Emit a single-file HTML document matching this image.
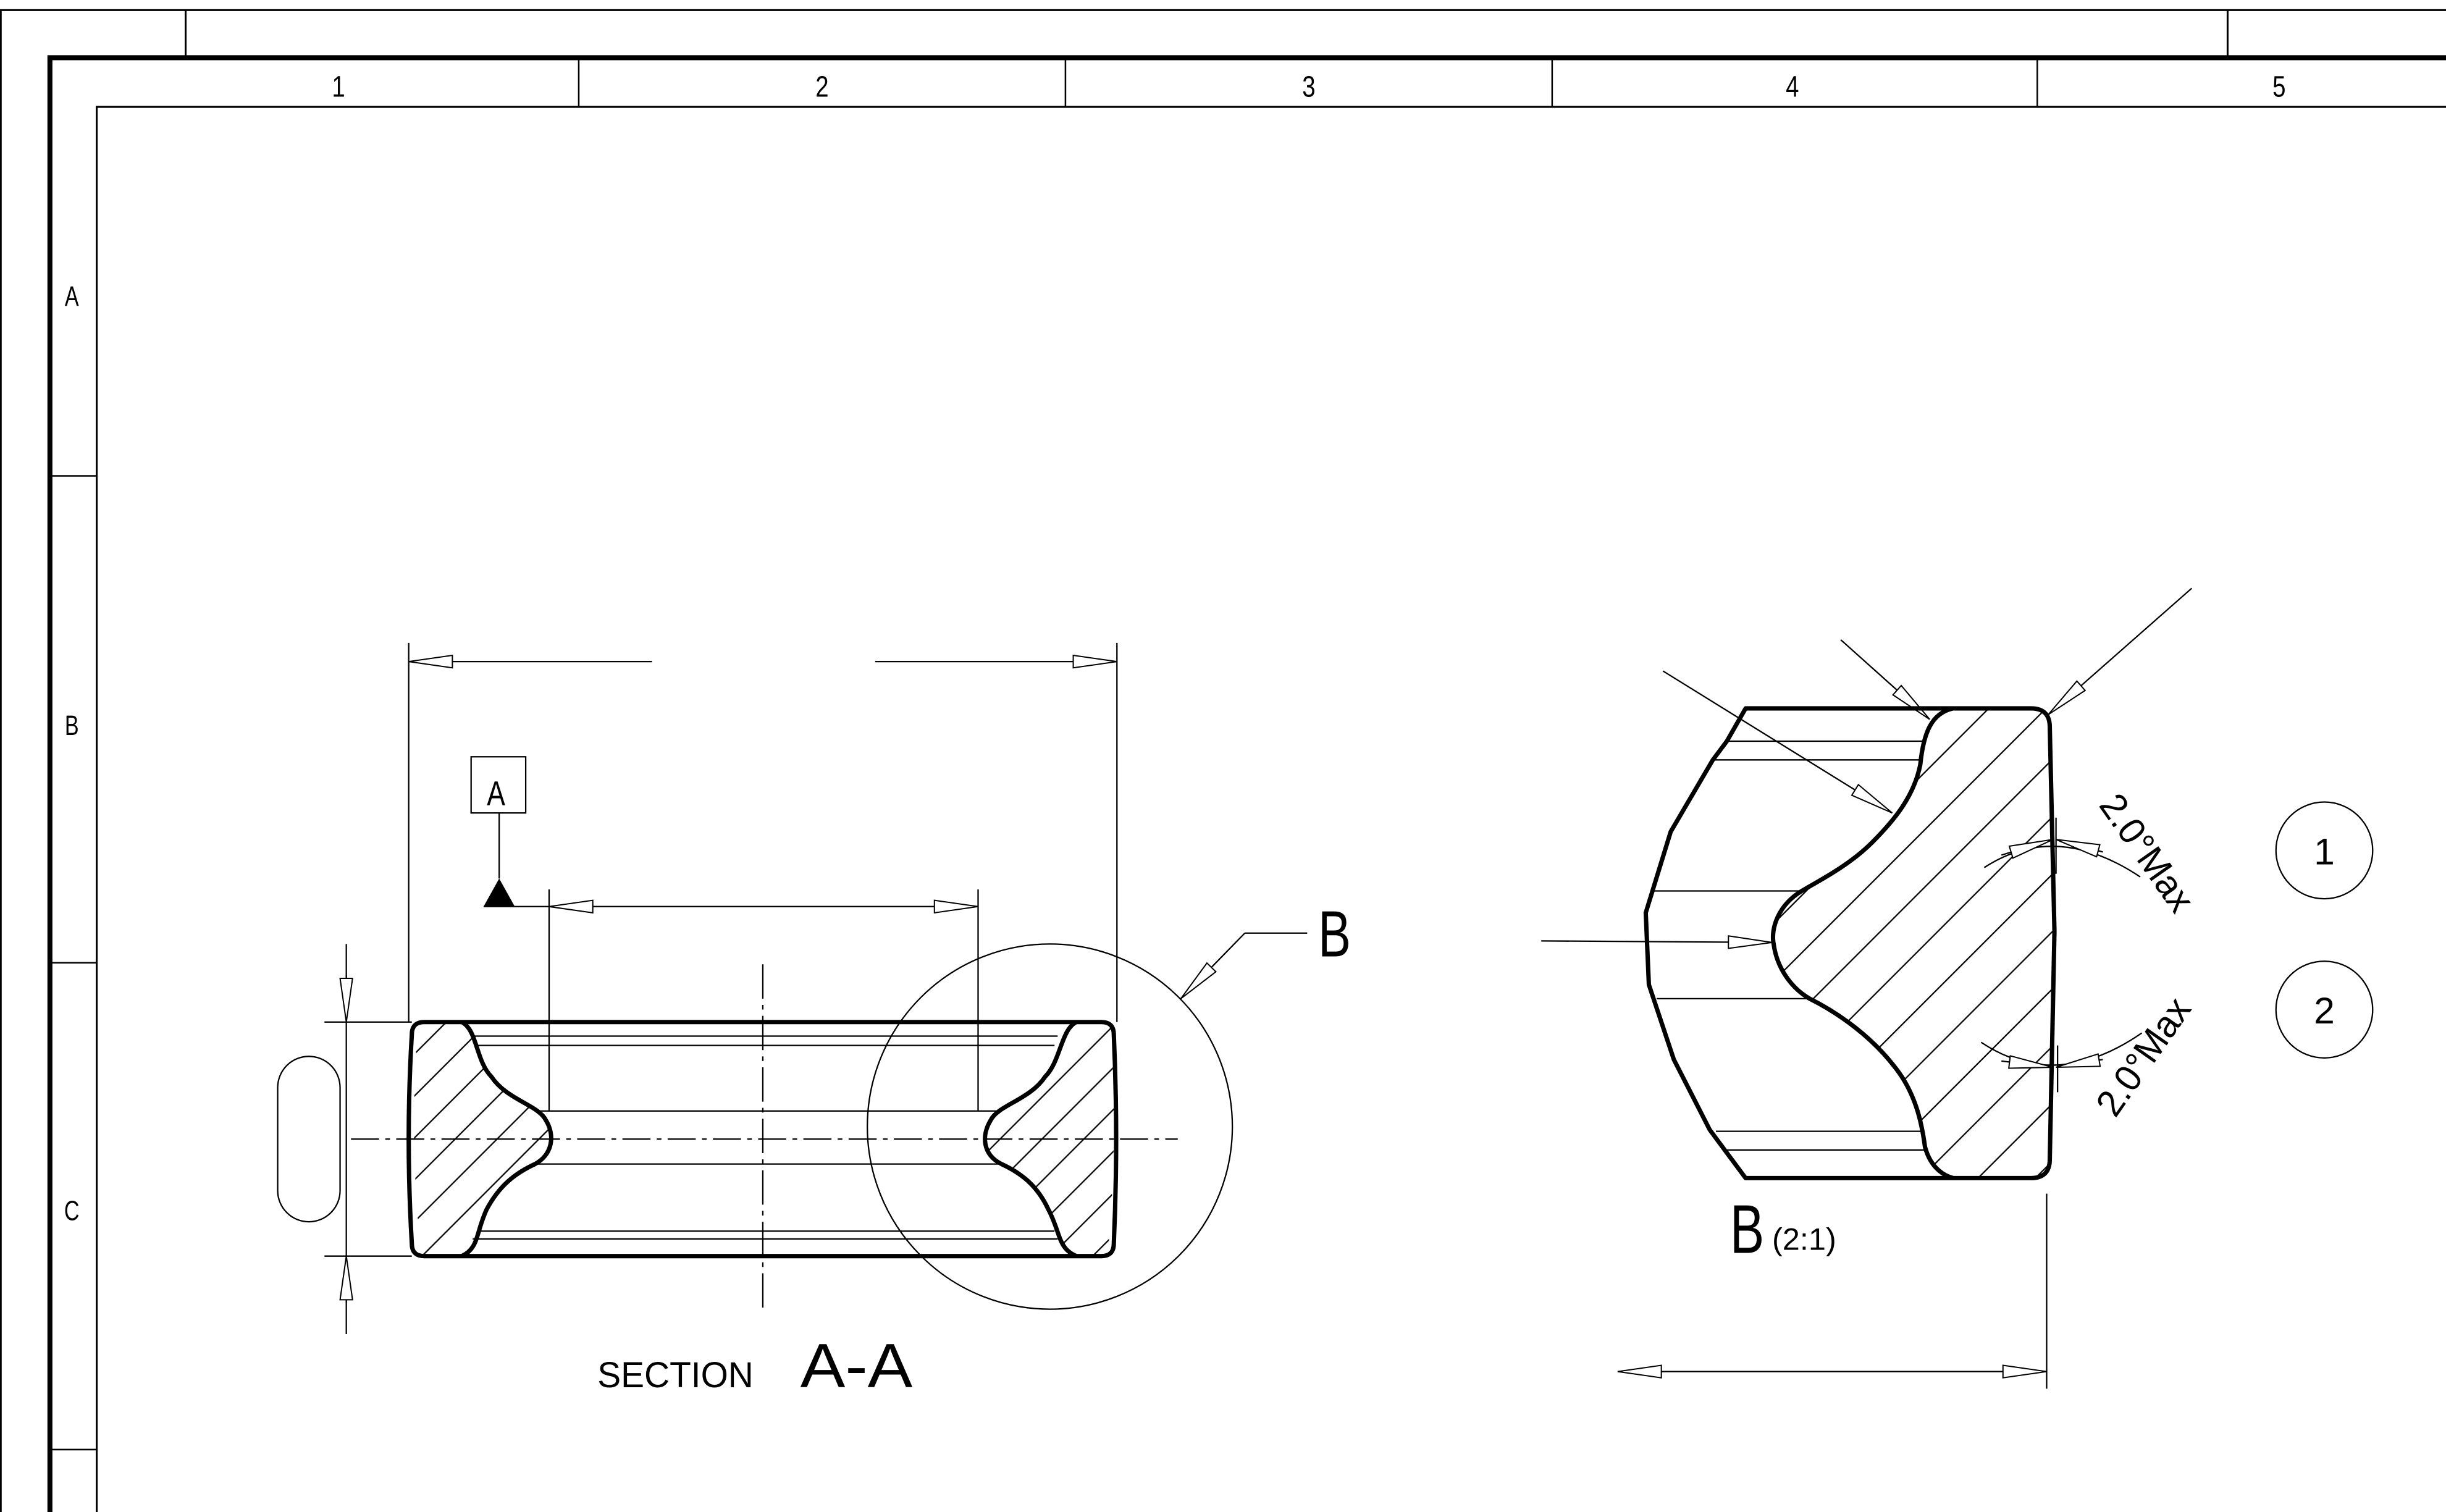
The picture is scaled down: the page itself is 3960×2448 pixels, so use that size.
<!DOCTYPE html>
<html><head><meta charset="utf-8"><style>html,body{margin:0;padding:0;background:#fff}svg{display:block}text{font-family:"Liberation Sans",sans-serif;fill:#000}</style></head>
<body>
<svg width="3960" height="2448" viewBox="0 0 1568 969" preserveAspectRatio="none" xmlns="http://www.w3.org/2000/svg">
<defs>
<marker id="a" markerUnits="userSpaceOnUse" markerWidth="30" markerHeight="10" refX="28" refY="4" orient="auto-start-reverse" overflow="visible"><path d="M0,0 L28,4 L0,8 Z" fill="#fff" stroke="#000" stroke-width="0.8"/></marker>
<pattern id="h1" patternUnits="userSpaceOnUse" width="19" height="19" patternTransform="rotate(-45)"><line x1="0" y1="0.5" x2="19" y2="0.5" stroke="#000" stroke-width="0.9"/></pattern>
<pattern id="h2" patternUnits="userSpaceOnUse" width="26" height="26" patternTransform="rotate(-45)"><line x1="0" y1="0.5" x2="26" y2="0.5" stroke="#000" stroke-width="0.9"/></pattern>
</defs>
<g fill="none" stroke="#000">
<path d="M0,6.5 H1568 M0.5,6.5 V969 M119,6.5 V37 M1428,6.5 V37" stroke-width="1.2"/>
<path d="M32,969 V37 H1568" stroke-width="3.2"/>
<path d="M62,969 V68.5 H1568" stroke-width="1.2"/>
<path d="M371,37 V68 M683,37 V68 M995,37 V68 M1306,37 V68 M32,305 H62 M32,617 H62 M32,929 H62" stroke-width="1"/>
</g>
<g font-size="19" text-anchor="middle">
<text transform="translate(217,62) scale(0.8,1)">1</text><text transform="translate(527,62) scale(0.8,1)">2</text><text transform="translate(839,62) scale(0.8,1)">3</text><text transform="translate(1149,62) scale(0.8,1)">4</text><text transform="translate(1461,62) scale(0.8,1)">5</text>
<text transform="translate(46,196) scale(0.75,1)" font-size="18">A</text><text transform="translate(46,471) scale(0.75,1)" font-size="18">B</text><text transform="translate(46,782) scale(0.75,1)" font-size="18">C</text>
</g>

<path d="M296,655 C306,660 305,680 315,690 C325,705 345,708 350,718 C356,728 354,740 343,746 C330,752 320,760 312,775 C305,790 307,800 296,805 L270,805 Q262,730 268,655 Z" fill="url(#h1)"/>
<path d="M690,655 C680,660 680,680 670,690 C660,705 640,708 635,718 C629,728 630,740 642,746 C655,752 665,760 672,775 C680,790 678,800 690,805 L710,805 Q717,730 712,655 Z" fill="url(#h1)"/>
<g fill="none" stroke="#000" stroke-width="0.9">
<path d="M303,664 H678 M306,670 H676 M343,712 H640 M343,746 H640 M306,789 H676 M303,794 H678"/>
<path d="M225,730 H755" stroke-dasharray="18,4,3,4"/>
<path d="M489,618 V842" stroke-dasharray="22,4,3,4"/>
<path d="M262,412 V655 M716,412 V655"/>
<path d="M418,424 H262" marker-end="url(#a)"/>
<path d="M561,424 H716" marker-end="url(#a)"/>
<path d="M352,570 V712 M627,570 V712"/>
<path d="M352,581 H627" marker-start="url(#a)" marker-end="url(#a)"/>
<path d="M310,581 H352"/>
<rect x="302" y="485" width="35" height="36"/>
<path d="M320,521 V563"/>
<path d="M208,655 H264 M208,805 H264 M222,605 V855"/>
<path d="M222,625 V655" marker-end="url(#a)"/>
<path d="M222,835 V805" marker-end="url(#a)"/>
<rect x="178" y="677" width="40" height="106" rx="20"/>
<ellipse cx="673" cy="722" rx="117" ry="117"/>
<path d="M798,598 L757,640" marker-end="url(#a)"/>
<path d="M798,598 H838"/>
</g>
<path d="M320,563 L310,581 L330,581 Z" fill="#000"/>
<g fill="none" stroke="#000" stroke-width="2.8" stroke-linejoin="round">
<path d="M272,655 L706,655 Q714,655 714,663 Q717,730 714,797 Q714,805 706,805 L272,805 Q264,805 264,797 Q260,730 264,663 Q264,655 272,655Z"/>
<path d="M296,655 C306,660 305,680 315,690 C325,705 345,708 350,718 C356,728 354,740 343,746 C330,752 320,760 312,775 C305,790 307,800 296,805"/>
<path d="M690,655 C680,660 680,680 670,690 C660,705 640,708 635,718 C629,728 630,740 642,746 C655,752 665,760 672,775 C680,790 678,800 690,805"/>
</g>
<text transform="translate(318,516) scale(0.8,1)" font-size="22" text-anchor="middle">A</text>
<text transform="translate(845,613) scale(0.75,1)" font-size="42">B</text>
<text x="383" y="889" font-size="23" textLength="100" lengthAdjust="spacingAndGlyphs">SECTION</text>
<text x="513" y="889" font-size="40" textLength="72" lengthAdjust="spacingAndGlyphs">A-A</text>

<path d="M1252,454 C1238,457 1233,470 1231,490 C1227,510 1215,525 1200,540 C1185,555 1165,565 1155,571 C1140,580 1135,595 1137,605 C1139,620 1148,633 1160,640 C1180,650 1200,665 1214,683 C1228,700 1232,720 1234,735 C1238,750 1248,754 1252,755 L1302,755 Q1314,755 1314,743 L1317,597 L1314,466 Q1314,454 1302,454 Z" fill="url(#h2)"/>
<g fill="none" stroke="#000" stroke-width="0.9">
<path d="M1107,475 H1233 M1098,487 H1231 M1060,571 H1156 M1062,640 H1158 M1100,725 H1232 M1107,737 H1235"/>
<path d="M1066,430 L1213,521" marker-end="url(#a)"/>
<path d="M1180,410 L1237,461" marker-end="url(#a)"/>
<path d="M1405,377 L1313,458" marker-end="url(#a)"/>
<path d="M988,603 L1136,604" marker-end="url(#a)"/>
<path d="M1272,556 Q1318,526 1372,562"/>
<path d="M1283,548 L1316,538" marker-end="url(#a)"/>
<path d="M1348,546 L1318,538" marker-end="url(#a)"/>
<path d="M1270,668 Q1318,700 1373,662"/>
<path d="M1283,680 L1316,684" marker-end="url(#a)"/>
<path d="M1348,679 L1318,684" marker-end="url(#a)"/>
<path d="M1318,524 V560 M1319,670 V700"/>
<circle cx="1490" cy="545" r="31"/>
<circle cx="1490" cy="647" r="31"/>
<path d="M1312,765 V890"/>
<path d="M1037,879 H1312" marker-start="url(#a)" marker-end="url(#a)"/>
</g>
<g fill="none" stroke="#000" stroke-width="2.8" stroke-linejoin="round">
<path d="M1119,454 L1302,454 Q1314,454 1314,466 L1317,597 L1314,743 Q1314,755 1302,755 L1119,755 L1096,724 L1073,679 L1057,631 L1055,585 L1071,533 L1098,487 L1107,475 Z"/>
<path d="M1252,454 C1238,457 1233,470 1231,490 C1227,510 1215,525 1200,540 C1185,555 1165,565 1155,571 C1140,580 1135,595 1137,605 C1139,620 1148,633 1160,640 C1180,650 1200,665 1214,683 C1228,700 1232,720 1234,735 C1238,750 1248,754 1252,755"/>
</g>
<text x="1490" y="554" font-size="24" text-anchor="middle">1</text>
<text x="1490" y="656" font-size="24" text-anchor="middle">2</text>
<text transform="translate(1345,516) rotate(55)" font-size="24" textLength="86" lengthAdjust="spacingAndGlyphs">2.0°Max</text>
<text transform="translate(1356,717) rotate(-55)" font-size="24" textLength="86" lengthAdjust="spacingAndGlyphs">2.0°Max</text>
<text transform="translate(1109,803) scale(0.75,1)" font-size="44">B</text>
<text x="1136" y="801" font-size="20">(2:1)</text>
</svg>
</body></html>
